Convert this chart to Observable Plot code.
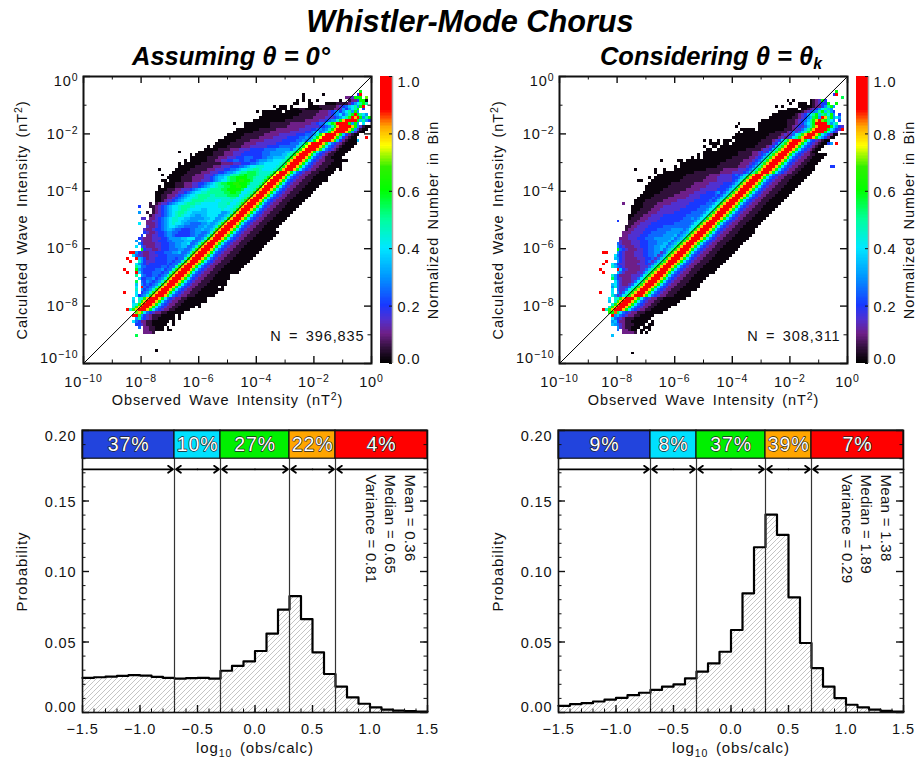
<!DOCTYPE html>
<html><head><meta charset="utf-8">
<script src="https://cdn.jsdelivr.net/npm/d3@7"></script>
<script src="https://cdn.jsdelivr.net/npm/@observablehq/plot@0.6"></script>
<style>
html,body{margin:0;padding:0;background:#fff;overflow:hidden}
#chart{position:relative;width:924px;height:761px;font-family:"Liberation Sans",Arial,sans-serif;color:#000}
#chart svg{position:absolute;background:transparent;overflow:visible}
.ttl{position:absolute;font-weight:bold;font-style:italic;text-align:center;white-space:nowrap}
.ttl sub{font-size:62%;vertical-align:-0.28em;line-height:0}
</style></head><body><div id="chart">
<div class="ttl" id="t0" style="left:8px;width:924px;top:4px;font-size:30.7px">Whistler-Mode Chorus</div>
<div class="ttl" id="t1" style="left:31px;width:400px;top:42px;font-size:25.5px">Assuming θ = 0°</div>
<div class="ttl" id="t2" style="left:511px;width:400px;top:42px;font-size:25.5px">Considering θ = θ<sub>k</sub></div>
</div>
<script>
// Normalized density, row by row: [row, first column, one letter per cell]; a=black … u=1.0, 0.05 a step, "." = empty
const levelLetters = "abcdefghijklmnopqrstu";
const rowsAssuming = [
[4,25,"a"],[9,18,"l"],[10,21,"cccb"],[11,21,"ccbbaaa.aa"],[12,19,"f.ccbbaaa.a"],[13,18,"eedcbbaaaaa..a"],
[14,17,"ifeccbbaaaaaa.a"],[15,18,"gkfedcbbaaaaaa.a"],[16,17,"uslgedcbbbaaaaa.a"],[17,18,"oqnifedccbbaaaaaa"],
[18,15,"u...mssoifedccbbbaaaaa"],[19,18,"mpuusmifedccbbbaaaaaa.a"],[20,17,"i.lmtusoifedccbbbaaaaaaa"],
[21,17,"h.mkqsutqmhfedccbbbaaaaaaa"],[22,17,"i.jknrtusqmhfedccbbaaaaaaa"],[23,18,"ij.hklprtusqmifedccbbaaaaaaa"],
[24,14,"u...i.hgiknqtusqmifedccbbbaaaaaaa"],[25,18,"j.gfgiknqtusqmifedccbbbaaaaaaaa"],[26,18,"i.ufgfhjlpsutqmifedccbbbaaaaa.a"],
[27,18,"h.geffghkoqtusqmifedccbbbaaaaaaa"],[28,18,"l.fegffghjlpsutqmifedccbbbaaaaaa"],[29,19,"ieeffgghhjnqtusqmifedccbbbaaaaaa"],
[30,18,"k.gfeeffgghjmpsutqmifedccbbbaaaaa"],[31,15,"u..uifeeefffggjmpsutqmifedccbbbaaaaa"],[32,14,"u...mgfeeeeffghjmpsutqmifedccbbbaaaaa"],
[33,18,"kiffeeeeefffgijnqtusqmifedccbbbaaaaa"],[34,18,"igfedeeeeeefffhjmpsutqmifedccbbbaaaaa"],[35,16,"u..jgedddeeeefffgjnqtusqmifedccbbbaaaaa"],
[36,15,"u..uhgecddeeeefffghjmpsutqmifedccbbbaaaaa"],[37,17,"ifddccdddeeefffffghknqtusqmifedccbbbaaaaa"],[38,16,"uugedccddeeefffgghhjmpsutqmifedccbbbaaaaa"],
[39,20,"meddccdeeefffgghiknqtusqmifedccbbbaaaaa"],[40,18,"i.fdcccddeeeffgghhhjmpsutqmifedccbbbaaaaa"],[41,19,"geccccddeeeffgghhiiknqtusqmifedccbbbaaaaa"],
[42,18,"g.dcccddeeeffgggghhhiijmpsutqmifedccbbbaaaaa"],[43,19,"edcccdddeefgggghhiiijknqtusqmifedccbbbaaaaa"],[44,20,"e.ccddeefggfeeeeeffgghijmpsutqmifedccbbbaaaaa"],
[45,21,"edccdeefggffeeeeffgghijknqtusqmifedccbbbaaaaa"],[46,21,"dccdeefghhgffeeeffgghijmpsutqmifedccbbbaaa"],[47,22,"dccdefghiihggfffffgghijknqtusqmifedccbbbaaa"],
[48,19,"i..cccdefghijiihggffffgghhijkmpsutqmifedccbbbaaa"],[49,22,"ccddefghijjihhgggghhhiijknqtusqmifedccbbbaaa"],[50,21,"d.ccdefghijjiihhggggghhiiijjkmpsutqmifedccbbbaaa"],
[51,23,"bcddefghijkjiihhgghhiiiijjkkmpsutqmifedccbbbaaa"],[52,22,"b.bcdefghijkkjiihhhhhiiiiijjjkmqsutqmifedccbbbaaa"],[53,24,"bcdefghiijkkjiiiihhiiiiijjjkknqtusqmifedccbbbaaa"],
[54,19,"e...bbcdefghiijkkkjjiiiiiiiijjjkkkmpsutqmifedccbbbaaa"],[55,23,"b.bcddefghiijkkkjjiiiiiijjjkkklnqtusqmifedccbbbaaa"],[56,25,"aabcddefghiijkkkkjjjjiijjjjkkkkmqsutqmifedccbbbaaa"],
[57,25,"aabbccdefghiijjkkkjjjjjjjjkkkkkmnqtusqmifedccbbbaaa"],[58,25,"aabbcccdefghiijkkkkjjkkkkllllkkkknpsutqmifedccbbbaaa"],[59,25,"aaabbbccddefghiijjkkkkkkllmmllkkkkknqtusqmifedccbbbaaa"],
[60,26,"aaabbbccdddefghiijkkkkllmmmmmllkkkmpsutqmifedccbbbaaa"],[61,26,"a.aaaabbbcccddefghiijkkllmmnnmmllkkjlorutsqmifedccbbbaaa"],[62,28,"aaaabbbcccddeefghijkllmmnnmmmllkjjmpsutqmifedccbbbaaa"],
[63,27,"aa.aaaabbbbcccdddefghiikllmnnmmllkkjjklqsuutqmifedccbbbaaa"],[64,29,"aaaaabbbbccccddefghhikllmmmmllkkjjiimpstutqmifedccbbbaaa"],[65,27,"a..aaaaabbbbcccdddefgghhjkkllmlllkjjiiknqsuutqmifedccbbbaaa"],
[66,31,"aaaaabbbbbcccdddeefgghijkklllkjjiihjmpstutqmifedccbbbaaa"],[67,26,"a.....aaaaabbbbbbcccdddeeffghiijjkkjiihhgjlprtutrnifedccbbbaaa"],[68,33,"aaaaaabbbbbbcccdddeeeffghiijjjihhggilpqtuutqmifedccbbbaaa"],
[69,33,"a.aaaaaabbbbbbbccccdddeeeffghhiihggfiknrtutqnifedccbbbaaa"],[70,35,"a.aaaaaabbbccddeeffeeffeefggghhhhiiijmptutqmigfeddcbbbaaa"],[71,37,"aaaaaabbbbcccdddeeefffeeeffgghhhhijnqtusqnifedcbbbaaa"],
[72,37,"a.aaaaaabbbbcccdddeeeeeeefffgggghhhiknqsutrnifedcbbaaa"],[73,33,"a......aaaaabbbbcccddddeeeeeefffgggggghiknpsuutqmifedcbbaaa"],[74,42,"aaaaabbbbcccddddeeeeeffffggggghijmpsuutrnifedcbbaaa"],
[75,43,"a.aaaaabbbbbcccddddddeeeefffffgghjmpsuutqmifedcbaaa"],[76,46,"aaaaabbbbbccccdddddddeeeeefffghjmpsuuutqnifedcbaa"],[77,47,"aaaaaabbbbbcccccddddddeeeeeffghimpsuuutqnifedbaa"],
[78,49,"aaaaaabbbbbbcccccdddddeeeeffghklpstuutqmhfdbaa"],[79,50,"aaaaaabbbbbbbcccccddddddeeeffgikmpstuutqmhecba"],[80,52,"aaaaaaabbbbbbcccccccdddddeefgikoqsutqnieba"],
[81,53,"aaaaaaaabbbbbbccccccccddddeefghknqstuusqlgdba"],[82,56,"aaaaaaaaabbbbbbccccccdddddeegikoqsttqkgei"],[83,52,"a...aaaaaaaaabbbbbbbcccccccddeffhkmosussmgmg.i"],
[84,59,"aaaaaaaaaaabbbbbbbcccccddefggjmqsutumhkge"],[85,61,"aaaaaaaaaaaabbbbbbbccccdddefgiknsqumgkm"],[86,62,"aaaaaaaaaaaaabbbbbbccccdefgifhkmumkig"],
[87,60,"a.aaaaaaa.aaaaaabbbbbbcccdefgegikgmg"],[88,67,"aaaa.aaabbaaaaaabbbbccdgegikm.e"],[89,66,"a.aaa.a.....aaaabbbbbbcdefhikgmu"],
[90,73,"aa...aa....aaaabbbbcegikmg"],[91,74,"a.a.a..a.......a..bccemma"],[92,76,"a..............ccdmmm.o"],[93,76,"a......a...........eu"],[94,96,"m"],
[90,98,"k"],[77,95,"h"],[78,98,"u"],[81,98,"u"],[67,89,"a"],[52,19,"g"],[50,20,"d"]
];
// The narrow peak along the diagonal: [first row, last row, columns from the diagonal, letters]
const ridgeAssuming = [
[18,22,-2,"jnqtusqmifedccbbaaaaa"],[23,30,-4,"efgjnqsutqmifedccbbbaaaaa"],[31,36,-4,"effjnqsutqmifedccbbbaaaaaaa"],[37,45,-4,"ffgjnqsutqmifedccbbbaaaaaaa"],
[46,52,-4,"gghjnqsutqmifedccbbbaaaaa"],[53,60,-4,"iijknqsutqmifedccbbbaaaaa"],[61,66,-4,"jjjkmptutqmifedccbbbaaaaa"],[67,70,-4,"iiijkmqtutqmifedccbbbaaa"],
[71,73,-3,"hhjkmqtutqmifedcbbaaa"],[74,76,-2,"fhjmpstutqnifedcbaa"],[77,79,0,"fgjmpstutqmhecbaa"],[80,82,2,"fgjmqstusqmgdbaa"]
];
const rowsConsidering = [
[3,25,"a"],[9,18,"h"],[10,22,"ccccb.a.a"],[11,20,"f.ccbaa.aa.a"],[12,20,"gdcbbaaa.aaa"],[13,18,"hgfdcbbbaaaa.aa"],[14,18,"gheccbbaaaaaa.a"],
[15,18,"ifedcbbbaaaaaa"],[16,18,"ughfedccbbaaaaa"],[17,17,"nmrlifedccbbbaaaaaa"],[18,15,"u..kqsnifedccbbbaaaaa.a"],[19,18,"mopusqmifedccbbbaaaaa"],
[20,18,"gikosuspmifedccbbaaaaaa"],[21,17,"h.igjnsusqmifedccbbaaaaaa"],[22,17,"i.jlfkoqtusqmifedccbbaaaaaa"],[23,18,"jgfdhknqtusqmifedccbbaaaaaaa"],
[24,14,"u...i.gedhkpsusqmifedccbbbaaaaaa"],[25,18,"i.fddfkoqtusqmifedccbbbaaaaaaa"],[26,18,"gjfdddfhkosusqmifedccbbbaaaaaaa"],[27,18,"hifdccdfhkpsusqmifedccbbbaaaaa"],
[28,19,"ifdcccdfhkosusqmifedccbbbaaaaa"],[29,18,"lgedcccdfhkoqtusqmifedccbbbaaaaa"],[30,18,"jgeccccddfhkoqtusqmifedccbbbaaaaa"],[31,15,"u....hfdccccdfhkoqtusqmifedccbbbaaaaa"],
[32,14,"u.....uhedccccdfhkoqtusqmifedccbbbaaaaa"],[33,18,"jhfedcccccddfhkoqtusqmifedccbbbaaaaa"],[34,15,"u..igeddccccdddefhkoqtusqmifedccbbbaaaaa"],[35,16,"u...gedcccccddefhhkoqtusqmifedccbbbaaaaa"],
[36,19,"hgedccccdddeefghkoqtusqmifedccbbbaaaaa"],[37,19,"ifedcccdddeeffghhkoqtusqmifedccbbbaaaaa"],[38,15,"uu...gedcccdddeeffgghiknqtusqmifedccbbbaaaaa"],[39,20,"mfedcccddeeffgghhiknqtusqmifedccbbbaaaaa"],
[40,20,"gedcccddeeeffgghhhiknqtusqmifedccbbbaaaaa"],[41,20,"fdcccdddeeefffgghhiijmpsutqmifedccbbbaaaaa"],[42,21,"dcccdddeeefffgggghhijmpsutqmifedccbbbaaaaa"],[43,21,"cccdddeeefffgggggghhijmpsutqmifedccbbbaaaaa"],
[44,22,"ccddddeeefffffgggghhijmpsutqmifedccbbbaaaaa"],[45,22,"cccddddeeefffffggggghijmpsutqmifedccbbbaaaaa"],[46,23,"bccddddeeeefffffgggghijmpsutqmifedccbbbaaa"],[47,23,"bbccddddeeeeeffffffffghimpsutqmifedccbbbaaa"],
[48,24,"bbccddddeeeeeeeefffffghimpsutqmifedccbbbaaa"],[49,20,"e...bbbcccddddeeeeeeeeffffghimpsutqmifedccbbbaaa"],[50,24,"abbbcccddddeeeeeeeefffgghimpsutqmifedccbbbaaa"],[51,24,"aabbbcccddddeeeeeeeeffffghjnqsutqmifedccbbbaaa"],
[52,25,"aabbbbcccddddddeeeeeefffgghjnqsutqmifedccbbbaaa"],[53,25,"aaabbbbcccdddddddeeeeeefffghjnqsuutqmifedccbbbaaa"],[54,25,"aaaabbbbcccddddddddeeeeeffgghjnqsutqmifedccbbbaaa"],
[55,22,"c...aaabbbbbcccccddddddeeeeeefgghjnqsuutqmifedccbbbaaa"],[56,26,"aaaabbbbbbcccccddddddeeeeeffghjnqsuutqmifedccbbbaaa"],[57,27,"aaaaabbbbbbccccccdddddeeeeffghjnqsuutqmifedccbbbaaa"],
[58,28,"aaaaabbbbbbbcccccddddeeeeefgghknqsuutqmifedccbbbaaa"],[59,29,"aaaaaabbbbbbbcccccddddeeefgghknqsuutqmifedccbbbaaa"],[60,30,"aaaaaabbbbbbbbcccccddddddeeffhjnqsuutqmifedccbbbaaa"],
[61,30,"aaaaaaaabbbbbbbbcccccdddddeefhjnqsutqmifedccbbbaaa"],[62,31,"aaaaaaaabbbbbbbbcccccdddddeefhjnqsuutqmifedccbbbaaa"],[63,27,"aa...aaaaaaaaaabbbbbbbbcccccdddddefhjnqsuutqmifedccbbbaaa"],
[64,31,"a.aaaaaaaaaabbbbbbbbccccdddddefhjnqsuutqmifedccbbaaa.aa"],[65,34,"aaaaaaaaaabbbbbbbbccccddddefhjnqsuutqmifedccbbbaaa"],[66,33,"a..aaaaaaaaaaabbbbbbbbbccccdddefhjnqsuutqmifedccbbaaa.a"],
[67,26,"a......a..a...aaaaaaaaaaabbbbbbcccccddefhjnqsuutqmifedccbbaaa.a"],[68,40,"a.aaaaaaaaaaaaabbbbbbbcccddehknqsutqmifedccbbaaa......e"],[69,42,"aaaaaaaaaaaaaabbbbbbbcccddehknqsutqmifedccbbaaa"],
[70,35,"a.....aa.aaaaaaaaaaaaaabbbbbbcccdehknqsuutqmifedccbbaa"],[71,46,"a.a.aaaaaaaaaabbbbbbcccdehknqsutqmifedcbbaaa"],[72,48,"a.aaaaaaaaaaaabbbbbccdehknqsutqmifedcbbaa"],
[73,50,"aaaaaaaaaaaabbbbbccdehknqsutqmifedcbaa"],[74,51,"aa..aaaaaaaaaabbbbbcddehknqsutqmifedbaa"],[75,50,"a..aa.aaaaaaaaaaaabbbbcdehknqsutqmifecbaa"],
[76,52,"aaaa.aa.aaaaaaaaabbbbbcdeiknqsutqmifecba.eg.u"],[77,50,"a.a..a.aaa.aaaaaaaaabbbbcdeiknqstutqmigecbaa"],[78,60,"aaaaaaaaaaaabbbbcdfiknqsutqmigecba"],
[79,61,"aaaaaaaaaaaabbbbcdfikoqsuusqmigeca"],[80,62,"a.aaaaaaaaaaabbbbcdfhknqsutsmiged.e"],[81,63,"aaaaa.aaaaaaaaabbbcdehkmrtstomige.gu"],
[82,61,"a.......aaaaaaaaaabbcdegijmqqsuumikgme"],[83,62,"a......aaaaaaaaaabbbcdegikmutuskgik"],[84,70,"aaaaaaaaabbbcdefhkmqtomkig.e"],[85,73,"aaaaaaaabbcdeghlmgtqkmgig"],
[86,74,"aaaaaaaabcdegikmhklimg.e"],[87,76,"aaaaaaaabcdefgkmhkge"],[88,79,"aaaa.aabcdegikhg"],[89,75,"a.a.....aaaaabccegkmg"],[90,80,"a..aaa.abcdeem..m"],
[91,79,"a.a.....abcdme"],[92,98,"l"],[93,95,"eu"],[94,96,"m"],[61,75,"aa.a"],[68,95,"e"]
];
const ridgeConsidering = [
[18,22,-2,"jnqtusqmifedccbbaaaaa"],[23,30,-3,"dfiknqsutqmifedccbbbaaaaa"],[31,38,-3,"dfhknqsutqmifedccbbbaaaaaa"],[39,45,-3,"fghknqsutqmifedccbbbaaaaaa"],
[46,55,-3,"fgijnqsutqmifedccbbbaaaaa"],[56,65,-3,"efhjnqsutqmifedccbbbaaaaa"],[66,72,-3,"defhknqsutqmifedccbbaaaa"],[73,77,-2,"dehknqsutqmifedcbaa"],
[78,79,0,"cdfiknqsutqmigecaa"],[80,82,2,"dfhknqsutsmiged"]
];
const colorStops = [0,0.05,0.1,0.15,0.2,0.3,0.4,0.5,0.6,0.68,0.755,0.82,0.88,1];
const colorRamp = ["#000000","#30103a","#6e1f88","#5030d0","#1838ff","#0098ff","#00e8ff","#00ff9a","#00ff00","#30f000","#ffff00","#ffa800","#ff0000","#ff0000"];
const colorbarTicks = [0,0.2,0.4,0.6,0.8,1];
const exponentMajor = [-10,-8,-6,-4,-2,0];
const exponentMinor = [-9,-7,-5,-3,-1];

const histEdges = d3.range(31).map(i=>-1.5+i*0.1);
const histAssuming = [.0245,.025,.0255,.026,.0265,.0262,.0253,.0245,.024,.0244,.0245,.024,.0296,.033,.0363,.0436,.056,.073,.0825,.0662,.0427,.0273,.0183,.0107,.0062,.0036,.0021,.0014,.001,.0007];
const histConsidering = [.0047,.0059,.0066,.0078,.0092,.0104,.0123,.014,.016,.0183,.02,.0242,.029,.0348,.0431,.0585,.0845,.1172,.1404,.126,.0817,.0493,.0315,.0183,.0102,.0055,.0036,.0021,.0012,.0007];
const bandEdges = [-1.5,-0.7,-0.3,0.3,0.7,1.5];
const bandColors = ["#2244dd","#00e0ff","#00f000","#ffa500","#ff0000"];
const percentAssuming = ["37%","10%","27%","22%","4%"];
const percentConsidering = ["9%","8%","37%","39%","7%"];
const statsAssuming = ["Mean = 0.36","Median = 0.65","Variance = 0.81"];
const statsConsidering = ["Mean = 1.38","Median = 1.89","Variance = 0.29"];
const countAssuming = "N = 396,835";
const countConsidering = "N = 308,311";
const probMajor = [0,0.05,0.10,0.15,0.20];
const probLabelShift = [-5,1,1,1,6];
const probMinor = d3.range(0,21).map(i=>i/100);
const logMajor = [-1.5,-1,-0.5,0,0.5,1,1.5];
const logMinor = d3.range(31).map(i=>-1.5+i*0.1);
const xTitle = "Observed Wave Intensity (nT^{2})";
const yTitle = "Calculated Wave Intensity (nT^{2})";
const barTitle = "Normalized Number in Bin";
const histXTitle = "log_{10} (obs/calc)";
const histYTitle = "Probability";

const ink = "#111";
const root = document.getElementById("chart");
const fontStyle = {fontFamily:"'Liberation Sans',Arial,sans-serif",letterSpacing:"0.9px",wordSpacing:"2.5px",overflow:"visible",background:"transparent"};

function rich(svg){
  svg.querySelectorAll("text").forEach(t=>{
    const s=t.textContent;
    if(/^(Mean|Median|Variance) =/.test(s)){t.style.letterSpacing="0.3px";t.style.wordSpacing="0";return;}
    if(!/[\^_]\{/.test(s)) return;
    const parts=s.split(/([\^_]\{[^}]*\})/).filter(p=>p!=="");
    t.textContent=""; let back=0;
    parts.forEach(p=>{
      const el=document.createElementNS("http://www.w3.org/2000/svg","tspan");
      const m=p.match(/^([\^_])\{(.*)\}$/);
      if(m){const d=m[1]==="^"?-5:3.5;el.setAttribute("dy",d-back+"px");el.setAttribute("font-size","10.5");el.textContent=m[2].replace("-","\u2212");back=d;}
      else{if(back){el.setAttribute("dy",-back+"px");back=0;}el.textContent=p;}
      t.appendChild(el);
    });
  });
}
function place(svg,left,top){svg.style.left=left+"px";svg.style.top=top+"px";rich(svg);root.appendChild(svg);}
function sideTicks(values,orient,len,inner,scaleFn,sw){
  const f=scaleFn||(d=>d), o={stroke:ink,strokeWidth:sw};
  if(orient==="bottom") return Plot.tickX(values,{x:f,insetTop:inner-len,...o});
  if(orient==="top") return Plot.tickX(values,{x:f,insetBottom:inner-len,...o});
  if(orient==="left") return Plot.tickY(values,{y:f,insetRight:inner-len,...o});
  return Plot.tickY(values,{y:f,insetLeft:inner-len,...o});
}
function levelOf(ch){const idx=levelLetters.indexOf(ch);return idx===0?0.01:idx*0.05;}
function cellsOf(rows,ridge){
  const grid=new Map();
  for(const [j,start,s] of rows){
    [...s].forEach((ch,k)=>{
      if(ch===".")return;
      grid.set(`${start+k},${j}`,{i:start+k,j,v:levelOf(ch)});
    });
  }
  for(const [from,to,off,s] of ridge){
    for(let j=from;j<=to;j++){
      [...s].forEach((ch,k)=>{
        const i=j+off+k; if(i>99)return;
        grid.set(`${i},${j}`,{i,j,v:levelOf(ch)});
      });
    }
  }
  return [...grid.values()];
}
function heatPanel(rows,ridge,count,left){
  const innerW=288,innerH=287,M={l:83,t:16,b:50,r:5},p10=e=>10**e;
  const svg=Plot.plot({
    width:M.l+innerW+M.r,height:M.t+innerH+M.b,
    marginLeft:M.l,marginRight:M.r,marginTop:M.t,marginBottom:M.b,style:fontStyle,
    x:{type:"log",domain:[1e-10,1],axis:null},y:{type:"log",domain:[1e-10,1],axis:null},
    color:{type:"linear",domain:colorStops,range:colorRamp,clamp:true},
    marks:[
      Plot.rect(cellsOf(rows,ridge),{x1:d=>p10(-10+d.i*0.1),x2:d=>p10(-10+(d.i+1)*0.1),y1:d=>p10(-10+d.j*0.1),y2:d=>p10(-10+(d.j+1)*0.1),fill:d=>d.v,shapeRendering:"crispEdges"}),
      Plot.line([1e-10,1],{x:d=>d,y:d=>d,stroke:"#000",strokeWidth:1}),
      sideTicks(exponentMajor,"bottom",7,innerH,p10,1.4),sideTicks(exponentMinor,"bottom",3.5,innerH,p10,1),
      sideTicks(exponentMajor,"top",7,innerH,p10,1.4),sideTicks(exponentMinor,"top",3.5,innerH,p10,1),
      sideTicks(exponentMajor,"left",7,innerW,p10,1.4),sideTicks(exponentMinor,"left",3.5,innerW,p10,1),
      sideTicks(exponentMajor,"right",7,innerW,p10,1.4),sideTicks(exponentMinor,"right",3.5,innerW,p10,1),
      Plot.frame({stroke:ink,strokeWidth:2,fill:"none"}),
      Plot.text(exponentMajor,{x:p10,frameAnchor:"bottom",dy:19,lineAnchor:"middle",textAnchor:"middle",text:e=>`10^{${e}}`,fontSize:14.5,fill:ink}),
      ...exponentMajor.map(e=>Plot.text([e],{y:p10,frameAnchor:"left",dx:-5,dy:e===0?5:e===-10?-5:0,textAnchor:"end",lineAnchor:"middle",text:d=>`10^{${d}}`,fontSize:14.5,fill:ink})),
      Plot.text([xTitle],{frameAnchor:"bottom",dy:37,text:d=>d,fontSize:14.5,fill:ink,lineAnchor:"middle",textAnchor:"middle"}),
      Plot.text([yTitle],{frameAnchor:"left",dx:-61,rotate:-90,text:d=>d,fontSize:14.5,fill:ink,textAnchor:"middle",lineAnchor:"middle"}),
      Plot.text([count],{frameAnchor:"bottom-right",dx:-7,dy:-27,text:d=>d,fontSize:14.5,fill:ink,textAnchor:"end",lineAnchor:"middle"})
    ]
  });
  place(svg,left,60);
}
function colorBar(left){
  const innerH=287,levels=d3.range(0,1,0.005);
  const svg=Plot.plot({
    width:70,height:16+innerH+50,marginLeft:4,marginRight:54,marginTop:16,marginBottom:50,style:fontStyle,
    x:{domain:[0,1],axis:null},y:{domain:[0,1],axis:null},
    color:{type:"linear",domain:colorStops,range:colorRamp,clamp:true},
    marks:[
      Plot.rect(levels,{x1:0,x2:1,y1:d=>d,y2:d=>d+0.0055,fill:d=>d,shapeRendering:"crispEdges"}),
      Plot.ruleX([1],{stroke:"#aaa",strokeWidth:1.5}),
      sideTicks(colorbarTicks,"right",3,12,null,1),
      ...colorbarTicks.map(v=>Plot.text([v],{y:d=>d,frameAnchor:"right",dx:5,dy:v===1?5.5:v===0?-4:1,textAnchor:"start",lineAnchor:"middle",text:d=>d.toFixed(1),fontSize:14.5,fill:ink})),
      Plot.text([barTitle],{frameAnchor:"right",dx:41,rotate:-90,text:d=>d,fontSize:14.5,fill:ink,textAnchor:"middle",lineAnchor:"middle"})
    ]
  });
  place(svg,left,60);
}
function histPanel(values,percents,stats,left,id,width){
  const innerW=345,innerH=282,M={l:82,t:10,b:48};
  const r=width-M.l-innerW;
  const bins=values.map((v,i)=>({x1:histEdges[i],x2:histEdges[i+1],v}));
  const steps=[...values,values[values.length-1]].map((v,i)=>({x:histEdges[i],v}));
  const bands=percents.map((t,i)=>({x1:bandEdges[i],x2:bandEdges[i+1],t,c:bandColors[i]}));
  const arrows=[[bandEdges[0],bandEdges[1]],...d3.range(1,4).flatMap(i=>{const m=(bandEdges[i]+bandEdges[i+1])/2;return [[m,bandEdges[i]],[m,bandEdges[i+1]]];}),[bandEdges[5],bandEdges[4]]];
  const arrowY=0.1725;
  const defs=()=>{
    const d=d3.create("svg:defs");
    d.append("pattern").attr("id",id).attr("patternUnits","userSpaceOnUse").attr("width",5).attr("height",5)
      .append("path").attr("d","M-1,1L1,-1M0,5L5,0M4,6L6,4").attr("stroke","#a4a4a4").attr("stroke-width",0.65).attr("fill","none");
    return d.node();
  };
  const svg=Plot.plot({
    width,height:M.t+innerH+M.b,marginLeft:M.l,marginRight:r,marginTop:M.t,marginBottom:M.b,style:fontStyle,
    x:{domain:[-1.5,1.5],axis:null},y:{domain:[0,0.2],axis:null},color:{type:"identity"},
    marks:[
      defs,
      Plot.rect(bins,{x1:"x1",x2:"x2",y1:0,y2:"v",fill:`url(#${id})`}),
      Plot.line(steps,{x:"x",y:"v",curve:"step-after",stroke:"#000",strokeWidth:2.2}),
      Plot.ruleX(bandEdges.slice(1,5),{x:d=>d,y1:0,y2:0.18,stroke:"#333",strokeWidth:1.2}),
      Plot.rect(bands,{x1:"x1",x2:"x2",y1:0.18,y2:0.2,fill:"c",stroke:"#111",strokeWidth:1.2}),
      Plot.arrow(arrows,{x1:d=>d[0],x2:d=>d[1],y1:arrowY,y2:arrowY,stroke:"#000",strokeWidth:1.8,headLength:5,headAngle:70,insetEnd:1.5}),
      Plot.text(bands,{x:d=>(d.x1+d.x2)/2,y:0.19,text:"t",fill:"#fff",stroke:"#222",strokeWidth:1.3,fontSize:19.5,lineAnchor:"middle",textAnchor:"middle"}),
      sideTicks(logMinor,"bottom",3.5,innerH,null,1),sideTicks(logMajor,"bottom",7,innerH,null,1.4),
      sideTicks(probMinor,"left",3.5,innerW,null,1),sideTicks(probMajor,"left",7,innerW,null,1.4),
      sideTicks(probMinor,"right",3.5,innerW,null,1),sideTicks(probMajor,"right",7,innerW,null,1.4),
      Plot.frame({stroke:ink,strokeWidth:1.6,fill:"none"}),
      Plot.text(logMajor,{x:d=>d,frameAnchor:"bottom",dy:17,text:d=>d3.format(".1f")(d).replace("-","\u2212"),fontSize:14.5,fill:ink,lineAnchor:"middle",textAnchor:"middle"}),
      ...probMajor.map((v,i)=>Plot.text([v],{y:d=>d,frameAnchor:"left",dx:-6,dy:probLabelShift[i],text:d=>d.toFixed(2),fontSize:14.5,fill:ink,textAnchor:"end",lineAnchor:"middle"})),
      Plot.text([histXTitle],{frameAnchor:"bottom",dy:36,text:d=>d,fontSize:15,fill:ink,lineAnchor:"middle",textAnchor:"middle"}),
      Plot.text([histYTitle],{frameAnchor:"left",dx:-60,rotate:-90,text:d=>d,fontSize:15,fill:ink,textAnchor:"middle",lineAnchor:"middle"}),
      ...stats.map((s,i)=>Plot.text([s],{frameAnchor:"top-right",dx:-18-i*19.5,dy:44,rotate:90,text:d=>d,fontSize:15,fill:ink,textAnchor:"start",lineAnchor:"middle"}))
    ]
  });
  place(svg,left,420);
}
heatPanel(rowsAssuming,ridgeAssuming,countAssuming,0);
colorBar(376);
heatPanel(rowsConsidering,ridgeConsidering,countConsidering,476);
colorBar(852);
histPanel(histAssuming,percentAssuming,statsAssuming,0,"hatchA",462);
histPanel(histConsidering,percentConsidering,statsConsidering,476,"hatchB",448);
</script></body></html>
